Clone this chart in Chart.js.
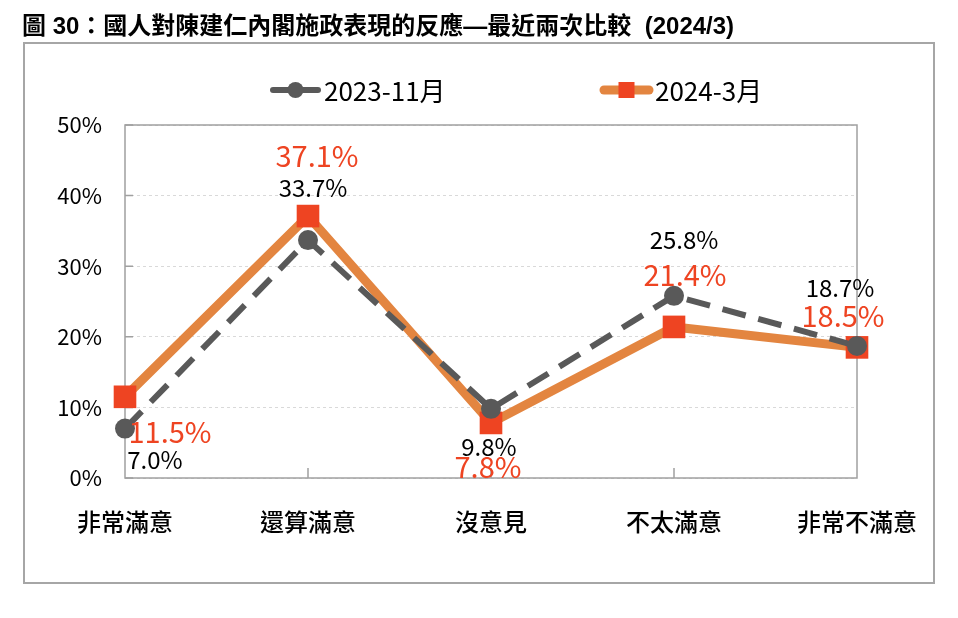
<!DOCTYPE html>
<html>
<head>
<meta charset="utf-8">
<script src="https://cdn.jsdelivr.net/npm/chart.js@4.4.1/dist/chart.umd.min.js"></script>
<style>
  body { margin: 0; background: #fff; }
  #title {
    position: absolute; left: 22px; top: 6px;
    font: bold 24px "Liberation Sans", "Noto Sans CJK TC", sans-serif;
    color: #000; white-space: nowrap;
  }
  #wrap { position: absolute; left: 0; top: 0; width: 958px; height: 618px; }
</style>
</head>
<body>
<div id="wrap"><canvas id="chart" width="958" height="618"></canvas></div>
<div id="title">圖 30：國人對陳建仁內閣施政表現的反應—最近兩次比較&nbsp; (2024/3)</div>
<script>
const categories = ['非常滿意', '還算滿意', '沒意見', '不太滿意', '非常不滿意'];
const nov2023 = [7.0, 33.7, 9.8, 25.8, 18.7];
const mar2024 = [11.5, 37.1, 7.8, 21.4, 18.5];
const seriesNames = ['2023-11月', '2024-3月'];
const yTicks = [0, 10, 20, 30, 40, 50];

const FONT = '"Noto Sans CJK TC", "Noto Sans", sans-serif';

// label offsets (px) relative to each point
const labelOffsets = [
    [[30, 31], [5, -52], [-2, 38], [10, -56], [-17, -58]],
    [[45, 35], [9, -60], [-3, 44], [11, -52], [-14, -31]]
];
const labelStyle = [
    { color: '#000', font: '24px ' + FONT },
    { color: '#EE4422', font: '29px ' + FONT }
];

const frame = {
    id: 'frame',
    beforeDraw(chart) {
        const ctx = chart.ctx;
        ctx.save();
        ctx.strokeStyle = '#a6a6a6';
        ctx.lineWidth = 2;
        ctx.strokeRect(24, 43, 910, 540);
        ctx.restore();
    },
    beforeDatasetsDraw(chart) {
        const ctx = chart.ctx;
        const a = chart.chartArea;
        const x = chart.scales.x;
        const y = chart.scales.y;
        ctx.save();
        ctx.strokeStyle = '#a0a0a0';
        ctx.lineWidth = 1.5;
        ctx.strokeRect(a.left, a.top, a.right - a.left, a.bottom - a.top);
        ctx.beginPath();
        for (let i = 1; i < categories.length - 1; i++) {
            const px = x.getPixelForValue(i);
            ctx.moveTo(px, a.bottom);
            ctx.lineTo(px, a.bottom - 10);
        }
        yTicks.forEach(v => {
            const py = y.getPixelForValue(v);
            ctx.moveTo(a.left, py);
            ctx.lineTo(a.left + 8, py);
        });
        ctx.stroke();
        ctx.restore();
    },
    afterDatasetsDraw(chart) {
        const ctx = chart.ctx;
        ctx.save();
        ctx.textAlign = 'center';
        ctx.textBaseline = 'middle';
        chart.data.datasets.forEach((ds, di) => {
            const meta = chart.getDatasetMeta(di);
            ctx.fillStyle = labelStyle[di].color;
            ctx.font = labelStyle[di].font;
            meta.data.forEach((pt, i) => {
                const o = labelOffsets[di][i];
                ctx.fillText(ds.data[i].toFixed(1) + '%', pt.x + o[0], pt.y + o[1]);
            });
        });
        // legend
        const ly = 90;
        const items = [
            { x0: 269, x1: 322, ds: chart.data.datasets[0] },
            { x0: 600, x1: 653, ds: chart.data.datasets[1] }
        ];
        ctx.textAlign = 'left';
        ctx.font = '26px ' + FONT;
        items.forEach(it => {
            ctx.strokeStyle = it.ds.borderColor;
            ctx.lineWidth = it.ds.borderWidth;
            ctx.lineCap = 'round';
            ctx.beginPath();
            ctx.moveTo(it.x0 + 4, ly);
            ctx.lineTo(it.x1 - 4, ly);
            ctx.stroke();
            const cx = (it.x0 + it.x1) / 2;
            ctx.fillStyle = it.ds.pointBackgroundColor;
            if (it.ds.pointStyle === 'rect') {
                ctx.fillRect(cx - 8, ly - 8, 16, 16);
            } else {
                ctx.beginPath();
                ctx.arc(cx, ly, 8, 0, Math.PI * 2);
                ctx.fill();
            }
            ctx.fillStyle = '#000';
            ctx.fillText(it.ds.label, it.x1 + 2, ly + 1);
        });
        ctx.restore();
    }
};

new Chart(document.getElementById('chart'), {
    type: 'line',
    data: {
        labels: categories,
        datasets: [{
            label: seriesNames[0],
            data: nov2023,
            borderColor: '#595959',
            borderWidth: 6,
            borderDash: [24, 13],
            pointStyle: 'circle',
            pointRadius: 10,
            pointBackgroundColor: '#595959',
            pointBorderWidth: 0,
            tension: 0
        }, {
            label: seriesNames[1],
            data: mar2024,
            borderColor: '#E38540',
            borderWidth: 9,
            pointStyle: 'rect',
            pointRadius: 16,
            pointBackgroundColor: '#EE4422',
            pointBorderWidth: 0,
            tension: 0
        }]
    },
    options: {
        responsive: false,
        animation: false,
        layout: { padding: { left: 0, top: 125, right: 101, bottom: 0 } },
        plugins: { legend: { display: false }, tooltip: { enabled: false } },
        scales: {
            x: {
                offset: false,
                grid: { display: false },
                border: { display: false },
                ticks: { color: '#000', font: { family: FONT, size: 24, weight: '500' }, padding: 21, maxRotation: 0 },
                afterFit(s) { s.height = 140; }
            },
            y: {
                min: 0, max: 50,
                grid: { color: '#d9d9d9', drawTicks: false },
                border: { display: false, dash: [3, 3] },
                ticks: {
                    stepSize: 10, color: '#000', padding: 23,
                    font: { family: FONT, size: 22 },
                    callback: v => v + '%'
                },
                afterFit(s) { s.width = 125; }
            }
        }
    },
    plugins: [frame]
});
</script>
</body>
</html>
